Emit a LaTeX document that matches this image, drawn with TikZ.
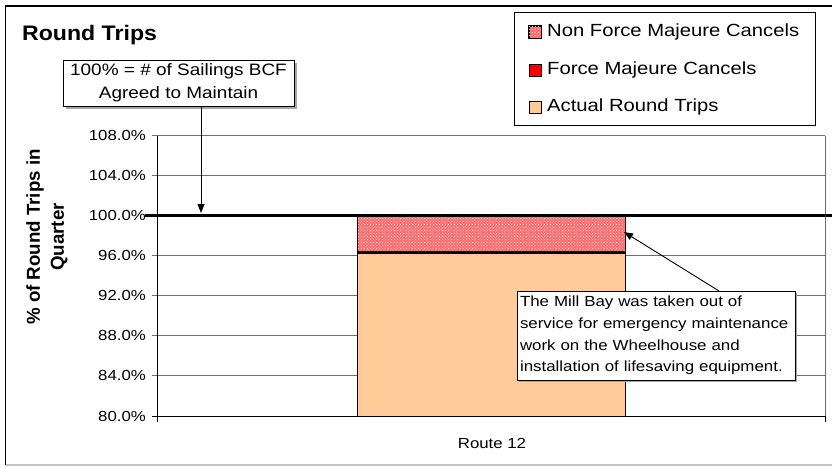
\documentclass[tikz,border=0pt]{standalone}
\usepackage{graphicx}
\usepackage{fontspec}
\setmainfont{Liberation Sans}[FakeStretch=1.15]
\newfontfamily\plainsans{Liberation Sans}
\usetikzlibrary{arrows.meta,patterns,shadows}
\definecolor{barorange}{RGB}{255,204,153}
\definecolor{barpink}{RGB}{255,102,102}
\definecolor{gridgray}{RGB}{110,110,110}
\tikzset{
  grid line/.style={draw=gridgray, line width=0.8pt},
  axis line/.style={draw=black, line width=1pt},
  tick label/.style={anchor=east, inner sep=0pt, font=\fontsize{14.6}{16}\selectfont},
  callout/.style={draw=black, fill=white, line width=0.8pt, inner sep=0pt},
  callout arrow/.style={draw=black, line width=0.9pt, -{Triangle[length=9pt,width=7pt]}},
  legend key/.style={draw=black, line width=0.8pt, minimum size=12pt, inner sep=0pt},
  legend text/.style={anchor=west, inner sep=0pt, font=\fontsize{17.6}{20}\selectfont},
}
\begin{document}
\begin{tikzpicture}[x=1pt,y=-1pt]
\useasboundingbox (0,0) rectangle (832,466);
\fill[white] (0,0) rectangle (832,466);
% outer frame
\draw[gray!45, line width=1.2pt] (5.5,465) -- (840,465);
\draw[black, line width=1.2pt] (5.5,465) -- (5.5,6) -- (840,6);
% title
\node[anchor=west, inner sep=0pt, font=\plainsans\fontsize{21}{24}\selectfont\bfseries] (title) at (22,35) {\scalebox{1.1}[1]{Round Trips}};
% gridlines
\foreach \v/\lab in {108/108.0\%,104/104.0\%,96/96.0\%,92/92.0\%,88/88.0\%,84/84.0\%,80/80.0\%} {
  \pgfmathsetmacro{\yy}{416-(\v-80)*281/28}
  \draw[grid line] (152,\yy) -- (825,\yy);
  \node[tick label] at (146,\yy) {\lab};
}
\node[tick label] (l100) at (146,215) {100.0\%};
% bar
\fill[barorange] (357,416) rectangle (625,252.5);
\fill[barpink] (357,252.5) rectangle (625,215);
\fill[pattern=crosshatch dots, pattern color=white] (357,252.5) rectangle (625,215);
\draw[black, line width=1pt] (357,416) -- (357,215) (625,416) -- (625,215);
\draw[black, line width=2.2pt] (357,252.5) -- (625,252.5);
% plot frame
\draw[grid line] (825,135.5) -- (825,416);
\draw[axis line] (157,135.5) -- (157,422);
\draw[axis line] (152,416) -- (825,416);
\draw[axis line] (825,416) -- (825,422);
% 100% line
\draw[black, line width=3pt] (145,215) -- (840,215);
% axis labels
\node[rotate=90, align=center, inner sep=0pt, font=\plainsans\fontsize{18.7}{24}\selectfont\bfseries] (ylab) at (47,237) {\% of Round Trips in\\Quarter};
\node[inner sep=0pt, font=\fontsize{14.6}{16}\selectfont] (xlab) at (492,443) {Route 12};
% callout 1
\node[callout, minimum width=231pt, minimum height=46pt, align=center,
      drop shadow={shadow xshift=3pt, shadow yshift=-3pt, fill=gray!70, opacity=1},
      font=\fontsize{16.5}{23}\selectfont] (box1) at (178.5,83) {100\% = \# of Sailings BCF\\Agreed to Maintain};
\coordinate (tgt1) at (201,213);
\draw[callout arrow] (box1.south -| tgt1) -- (tgt1);
% callout 2
\node[callout, minimum width=278pt, minimum height=89pt, text width=272pt, align=left,
      drop shadow={shadow xshift=1.5pt, shadow yshift=-1.5pt, fill=gray!70, opacity=1},
      font=\fontsize{14.7}{21.7}\selectfont] (box2) at (656,335.5) {The Mill Bay was taken out of\\service for emergency maintenance\\work on the Wheelhouse and\\installation of lifesaving equipment.};
\coordinate (src2) at (719,291);
\coordinate (tgt2) at (624,232);
\draw[callout arrow] (src2) -- (tgt2);
% legend
\node[draw=black, line width=0.9pt, fill=white, minimum width=301pt, minimum height=113pt, inner sep=0pt] (legend) at (664.5,68.5) {};
\node[legend key, fill=barpink] (k1) at (535,32) {};
\fill[pattern=crosshatch dots, pattern color=white] (k1.south west) rectangle (k1.north east);
\draw[black, line width=0.8pt] (k1.south west) rectangle (k1.north east);
\node[legend key, fill=red] (k2) at (535,70) {};
\node[legend key, fill=barorange] (k3) at (535,107) {};
\node[legend text] (t1) at (547,32) {Non Force Majeure Cancels};
\node[legend text] (t2) at (547,70) {Force Majeure Cancels};
\node[legend text] (t3) at (547,107) {Actual Round Trips};
\end{tikzpicture}
\end{document}
